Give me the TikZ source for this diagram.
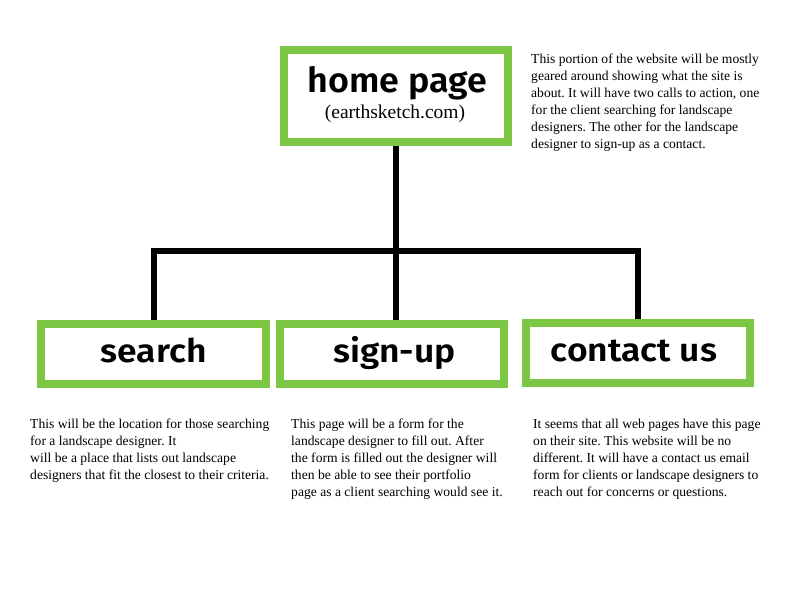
\documentclass[tikz,border=0pt]{standalone}
\usepackage{fontspec}
\setmainfont{Liberation Serif}
\newfontfamily\headfont{Fira Sans SemiBold}[FakeStretch=1.04]
\newfontfamily\labelfont{Fira Sans SemiBold}[FakeStretch=1.09]
\definecolor{leaf}{RGB}{123,198,66}
\frenchspacing
\begin{document}
\begin{tikzpicture}[x=1pt,y=-1pt,
  pagebox/.style={draw=leaf,line width=8pt,fill=white,inner sep=0pt,
    minimum width=#1},
  wire/.style={line width=6pt,draw=black,line join=miter},
  title/.style={inner sep=0pt,anchor=base,font=\labelfont\fontsize{32.5}{32.5}\selectfont},
  note/.style={inner sep=0pt,anchor=north west,align=left,
    font=\fontsize{13.6}{17}\selectfont}]
  \useasboundingbox[fill=white] (0,0) rectangle (792,612);

  % page boxes
  \node[pagebox=224pt,minimum height=92pt] (homebox) at (396,96) {};
  \node[pagebox=225pt,minimum height=60pt] (search) at (153.5,354) {};
  \node[pagebox=224pt,minimum height=60pt] (signup) at (392,354) {};
  \node[pagebox=224pt,minimum height=60pt] (contact) at (638,353) {};

  % titles
  \node[title,font=\headfont\fontsize{34.5}{34.5}\selectfont] (hometitle) at (397.5,93) {home page};
  \node[inner sep=0pt,anchor=base,font=\fontsize{19.5}{19.5}\selectfont] (homeurl) at (395,119) {(earthsketch.com)};
  \node[title] (searchtitle) at (153.5,362) {search};
  \node[title] (signuptitle) at (394.5,362) {sign-up};
  \node[title] (contacttitle) at (634,361) {contact us};

  % connectors
  \coordinate (bus) at (396,251);
  \draw[wire] (homebox.south) -- (bus);
  \draw[wire] (search.north) |- (bus) -| (contact.north);
  \draw[wire] (bus) -- (bus |- signup.north);

  % descriptions
  \node[note] (homenote) at (531,53.5) {This portion of the website will be mostly\\
    geared around showing what the site is\\
    about. It will have two calls to action, one\\
    for the client searching for landscape\\
    designers. The other for the landscape\\
    designer to sign-up as a contact.};
  \node[note] (searchnote) at (30,419) {This will be the location for those searching\\
    for a landscape designer. It\\
    will be a place that lists out landscape\\
    designers that fit the closest to their criteria.};
  \node[note] (signupnote) at (291,419) {This page will be a form for the\\
    landscape designer to fill out. After\\
    the form is filled out the designer will\\
    then be able to see their portfolio\\
    page as a client searching would see it.};
  \node[note] (contactnote) at (533,419) {It seems that all web pages have this page\\
    on their site. This website will be no\\
    different. It will have a contact us email\\
    form for clients or landscape designers to\\
    reach out for concerns or questions.};
\end{tikzpicture}
\end{document}
